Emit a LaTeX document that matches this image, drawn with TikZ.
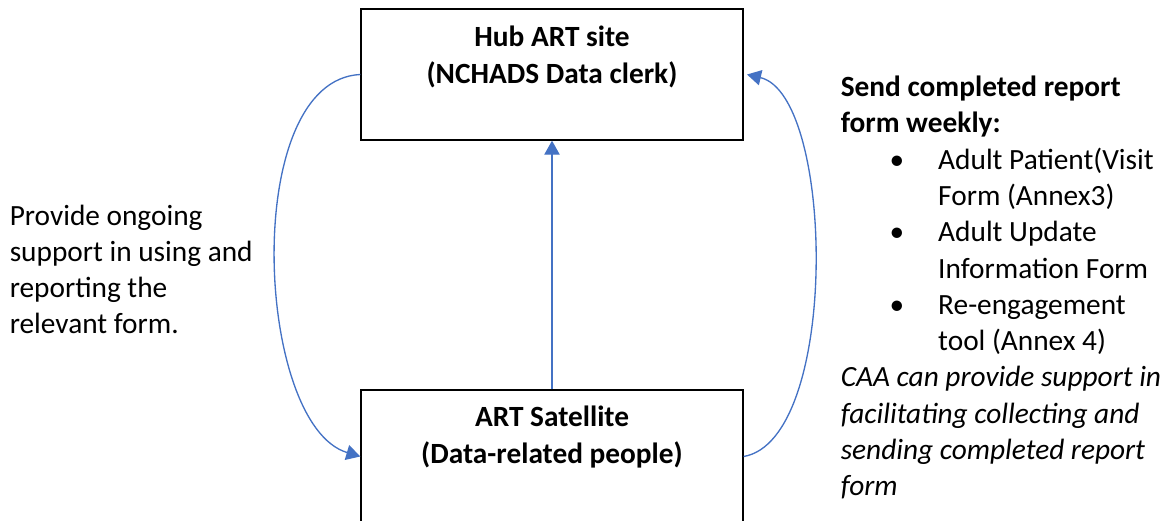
\documentclass[tikz,border=0pt]{standalone}
\usepackage{fontspec}
\setmainfont{Carlito}
\usetikzlibrary{arrows.meta}
\definecolor{linkblue}{HTML}{4472C4}
% a block of lines whose baseline is that of its first line
\newcommand\txtblock[2]{\begin{tabular}[t]{@{}#1@{}}#2\end{tabular}}
% bullet item and continuation indent
\newcommand\bulitem{\hspace*{42.2pt}\makebox[0pt]{•}\hspace*{30.9pt}}
\newcommand\contind{\hspace*{73.1pt}}
\begin{document}
\begin{tikzpicture}[x=0.75pt,y=-0.75pt,
  site/.style={draw=black, line width=1pt, minimum width=286.5pt, inner sep=0pt},
  txt/.style={inner sep=0pt, font=\fontsize{22}{27.2}\selectfont},
  flow/.style={draw=linkblue, line width=1pt, -{Triangle[length=10.5pt,width=11.5pt]}}
]
\useasboundingbox (0,0) rectangle (1171,521);

% the two sites
\node[site, minimum height=98.25pt] (hub) at (552,74.5) {};
\node[site, minimum height=99.75pt] (sat) at (552,456.5) {};
\node[txt, anchor=base, font=\fontsize{22}{27.6}\selectfont\bfseries] (hubtxt) at (552,46.7)
  {\txtblock{c}{Hub ART site\\(NCHADS Data clerk)}};
\node[txt, anchor=base, font=\fontsize{22}{27.6}\selectfont\bfseries] (sattxt) at (552,426.7)
  {\txtblock{c}{ART Satellite\\(Data-related people)}};

% connectors
\draw[flow] (sat.north) -- (hub.south);
\draw[flow] (hub.west) .. controls (240,80) and (255,425) .. (sat.west);
\draw[flow] (sat.east) .. controls (840,440) and (835,95) .. ([xshift=2.5pt]hub.east);

% side notes
\node[txt, anchor=base west] (support) at (9.5,225)
  {\txtblock{l}{Provide ongoing\\support in using and\\reporting the\\relevant form.}};
\node[txt, anchor=base west] (send) at (840.5,96.7)
  {\txtblock{l}{\textbf{Send completed report}\\
   \textbf{form weekly:}\\
   \bulitem Adult Patient(Visit\\
   \contind Form (Annex3)\\
   \bulitem Adult Update\\
   \contind Information Form\\
   \bulitem Re-engagement\\
   \contind tool (Annex 4)\\
   \textit{CAA can provide support in}\\
   \textit{facilitating collecting and}\\
   \textit{sending completed report}\\
   \textit{form}}};
\end{tikzpicture}
\end{document}
